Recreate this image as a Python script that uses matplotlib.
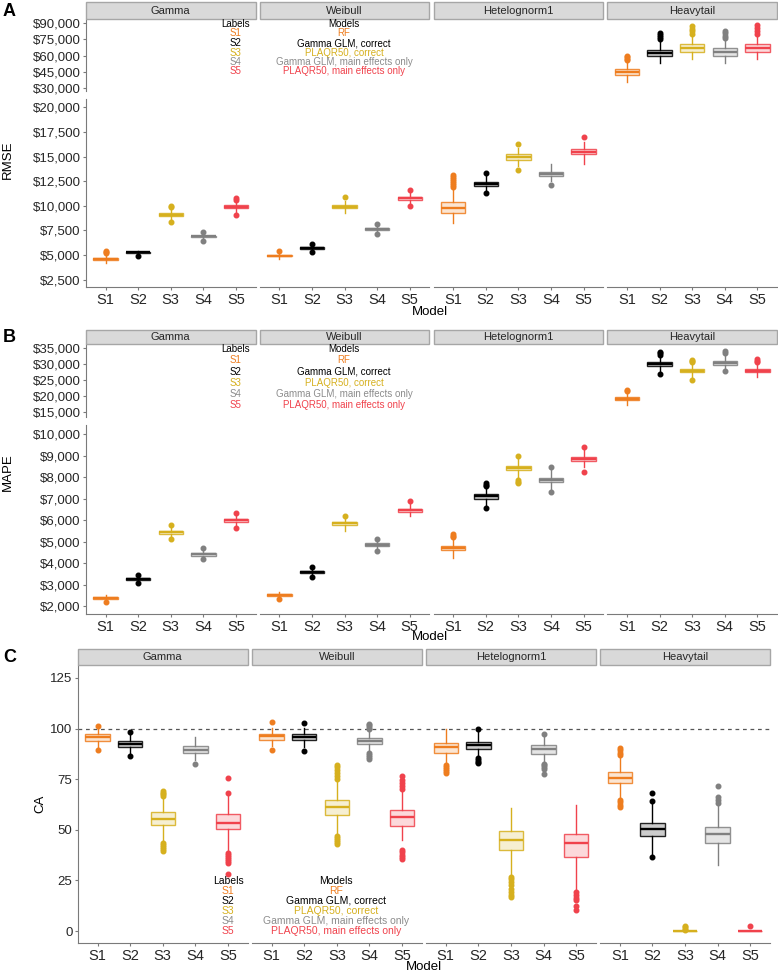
import numpy as np
import matplotlib.pyplot as plt
from matplotlib.colors import to_rgba
from matplotlib.patches import Rectangle
from matplotlib.ticker import FuncFormatter

plt.rcParams['font.family'] = ['Liberation Sans', 'DejaVu Sans']

W, H = 778, 973

dists = ["Gamma", "Weibull", "Hetelognorm1", "Heavytail"]
labels = ["S1", "S2", "S3", "S4", "S5"]
models = ["RF", "Gamma GLM, correct", "PLAQR50, correct",
          "Gamma GLM, main effects only", "PLAQR50, main effects only"]
box_colors = ["#EE7D1F", "#000000", "#D6B01E", "#808080", "#F0424C"]
text_colors = ["#EE7D1F", "#000000", "#D6B01E", "#8C8C8C", "#F0424C"]

# ---- RMSE (rows: Gamma, Weibull, Hetelognorm1, Heavytail; cols: S1..S5)
rmse_med = [[4600, 5270, 9100, 6900, 9900],
            [4950, 5720, 9900, 7650, 10750],
            [9800, 12220, 14950, 13230, 15500],
            [44500, 62700, 66700, 63000, 66700]]
rmse_q1 = [[4520, 5210, 8980, 6820, 9750],
           [4870, 5660, 9750, 7570, 10600],
           [9300, 12030, 14700, 13000, 15250],
           [42000, 59600, 63000, 59600, 63300]]
rmse_q3 = [[4680, 5330, 9230, 6980, 10050],
           [5030, 5790, 10080, 7730, 10900],
           [10350, 12420, 15230, 13450, 15800],
           [47300, 65200, 70500, 66700, 70700]]
rmse_lo = [[4150, 5050, 8650, 6600, 9400],
           [4600, 5450, 9250, 7300, 10300],
           [8300, 11600, 14050, 12500, 14200],
           [35500, 52800, 56500, 53500, 56500]]
rmse_hi = [[5000, 5450, 9650, 7250, 10500],
           [5300, 6000, 10500, 8000, 11300],
           [11800, 13000, 15900, 14250, 16500],
           [54000, 73000, 78000, 74000, 78000]]
rmse_out = [[[5200, 5300, 5400], [4850], [8400, 9850, 10000], [6450, 7350], [9100, 10600, 10750]],
            [[5450], [5300, 6100], [10850], [7100, 8100], [10000, 11600]],
            [[11950, 12150, 12350, 12550, 12750, 12950, 13150], [11250, 13300], [13600, 16300], [12100], [17000]],
            [[55500, 57000, 58500, 60000], [75000, 77000, 79000, 81000],
             [80000, 82500, 85000, 87500], [76000, 78500, 80500, 82500], [80000, 82500, 85500, 88300]]]

# ---- MAPE
mape_med = [[2360, 3260, 5430, 4400, 5980],
            [2530, 3600, 5840, 4850, 6460],
            [4690, 7100, 8420, 7860, 8850],
            [19100, 29900, 27900, 30300, 27900]]
mape_q1 = [[2320, 3220, 5360, 4350, 5900],
           [2490, 3550, 5760, 4790, 6390],
           [4600, 7000, 8310, 7760, 8750],
           [18600, 29300, 27400, 29800, 27400]]
mape_q3 = [[2400, 3300, 5500, 4450, 6060],
           [2570, 3650, 5920, 4910, 6530],
           [4790, 7200, 8520, 7960, 8950],
           [19700, 30500, 28400, 30900, 28500]]
mape_lo = [[2250, 3130, 5200, 4250, 5720],
           [2400, 3430, 5500, 4650, 6200],
           [4250, 6700, 7950, 7450, 8450],
           [17300, 27600, 25800, 28300, 26000]]
mape_hi = [[2500, 3400, 5680, 4600, 6250],
           [2650, 3770, 6100, 5080, 6750],
           [5150, 7500, 8850, 8350, 9250],
           [21000, 32300, 30100, 32800, 30200]]
mape_out = [[[2180], [3060, 3450], [5100, 5760], [4170, 4680], [5640, 6330]],
            [[2340], [3340, 3820], [6200], [4580, 5140], [6870]],
            [[5200, 5260, 5330], [6560, 7580, 7650, 7730], [7720, 7780, 7850, 9000], [7320, 8480], [8220, 9420]],
            [[21600, 22000], [26900, 32800, 33300, 33700], [25100, 30500, 31000, 31400],
             [27700, 33500, 34000], [30600, 31000, 31500]]]

# ---- CA
ca_med = [[95.8, 92.3, 55.5, 89.5, 53.5],
          [96.2, 95.8, 61.4, 93.7, 56.2],
          [90.8, 91.7, 45.2, 89.7, 43.4],
          [75.8, 50.5, 0, 48.0, 0]]
ca_q1 = [[94.1, 90.9, 52.2, 87.9, 50.2],
         [94.6, 94.3, 57.5, 92.2, 51.7],
         [88.0, 89.7, 40.1, 87.6, 36.5],
         [72.9, 46.7, 0, 43.4, 0]]
ca_q3 = [[97.4, 93.8, 58.6, 91.2, 57.8],
         [97.4, 97.4, 64.7, 95.1, 60.0],
         [93.0, 93.5, 49.3, 91.7, 48.0],
         [78.6, 53.3, 0, 51.3, 0]]
ca_lo = [[91.0, 88.0, 44.0, 84.5, 40.0],
         [91.5, 91.0, 48.0, 89.0, 45.0],
         [83.5, 86.0, 28.0, 84.0, 20.0],
         [66.0, 37.5, 0, 32.7, 0]]
ca_hi = [[99.6, 96.7, 65.0, 95.8, 67.5],
         [100.3, 100.5, 74.0, 98.5, 69.0],
         [100.0, 99.3, 61.0, 96.0, 62.5],
         [85.5, 63.5, 0, 62.0, 0]]
ca_out = [[[89.6, 101.5], [86.3, 98.3],
           [39.5, 40.5, 41.5, 42.5, 43.3, 66.8, 67.6, 68.4, 69.2], [82.7],
           [28.0, 33.5, 34.5, 35.5, 36.5, 37.5, 38.5, 68.2, 75.7]],
          [[89.2, 103.1], [88.9, 102.8],
           [42.8, 43.8, 44.8, 45.8, 47.0, 75.3, 76.5, 78.0, 79.5, 81.0, 82.2],
           [85.1, 86.0, 87.0, 88.0, 99.8, 100.8, 101.8, 102.5],
           [35.7, 36.8, 37.8, 38.8, 39.8, 70.1, 71.5, 73.0, 74.5, 76.6]],
          [[78.0, 79.0, 80.0, 81.0, 81.9], [82.8, 83.6, 84.4, 85.3, 99.6],
           [16.8, 18.0, 19.5, 21.0, 22.5, 24.0, 25.5, 26.5],
           [77.5, 79.9, 81.0, 82.0, 82.7, 97.4],
           [10.2, 12.3, 15.1, 16.5, 18.0, 19.2]],
          [[61.5, 62.5, 63.5, 64.8, 86.8, 88.0, 89.2, 90.5], [36.5, 64.4, 68.1],
           [0.6, 1.2, 1.8, 2.4], [63.2, 64.5, 66.0, 71.7], [2.3]]]


def make_stats(med, q1, q3, lo, hi, out, d):
    return [dict(med=med[d][k], q1=q1[d][k], q3=q3[d][k],
                 whislo=lo[d][k], whishi=hi[d][k], fliers=out[d][k]) for k in range(5)]


fig = plt.figure(figsize=(W / 100, H / 100), dpi=100)
AX_COL = "#7A7A7A"
TXT_COL = "#262626"


def add_ax(x0, y0, x1, y1):
    ax = fig.add_axes([x0 / W, 1 - y1 / H, (x1 - x0) / W, (y1 - y0) / H])
    ax.patch.set_alpha(0)
    for s in ax.spines.values():
        s.set_visible(False)
        s.set_color(AX_COL)
    ax.tick_params(colors=AX_COL, labelcolor=TXT_COL, length=2.5, width=0.8, pad=1.5)
    return ax


def draw_boxes(ax, st):
    art = ax.bxp(st, positions=range(1, 6), widths=0.75, patch_artist=True,
                 showcaps=False, manage_ticks=False)
    for k, c in enumerate(box_colors):
        art['boxes'][k].set(facecolor=to_rgba(c, 0.2), edgecolor=to_rgba(c, 0.85), linewidth=1.0)
        art['medians'][k].set(color=c, linewidth=1.7)
        for w in art['whiskers'][2 * k:2 * k + 2]:
            w.set(color=c, linewidth=1.0)
        art['fliers'][k].set(marker='o', markerfacecolor=c, markeredgecolor=c,
                             markersize=3.3, linestyle='none')


def strip(x0, y0, x1, y1, name):
    fig.add_artist(Rectangle((x0 / W, 1 - y1 / H), (x1 - x0) / W, (y1 - y0) / H,
                             transform=fig.transFigure, facecolor="#D9D9D9",
                             edgecolor="#A6A6A6", linewidth=1.0))
    fig.text((x0 + x1) / 2 / W, 1 - (y0 + y1) / 2 / H, name, ha='center', va='center',
             fontsize=8, color=TXT_COL)


def legend(xl, xm, y0, dy, fs):
    fig.text(xl / W, 1 - y0 / H, "Labels", ha='center', va='center', fontsize=fs, color="#000000")
    fig.text(xm / W, 1 - y0 / H, "Models", ha='center', va='center', fontsize=fs, color="#000000")
    for k in range(5):
        y = y0 + dy * (k + 1)
        fig.text(xl / W, 1 - y / H, labels[k], ha='center', va='center', fontsize=fs, color=text_colors[k])
        fig.text(xm / W, 1 - y / H, models[k], ha='center', va='center', fontsize=fs, color=text_colors[k])


money = FuncFormatter(lambda v, p: "${:,.0f}".format(v))


def broken_panel(med, q1, q3, lo, hi, out, strip_y, top_y, bot_y, top_lim, bot_lim,
                 top_ticks, bot_ticks):
    pw, gap = 169.5, 4.3
    for d in range(4):
        x0 = 86 + d * (pw + gap)
        x1 = x0 + pw
        strip(x0, strip_y[0], x1, strip_y[1], dists[d])
        st = make_stats(med, q1, q3, lo, hi, out, d)
        at = add_ax(x0, top_y[0], x1, top_y[1])
        ab = add_ax(x0, bot_y[0], x1, bot_y[1])
        for ax, lim, ticks in ((at, top_lim, top_ticks), (ab, bot_lim, bot_ticks)):
            draw_boxes(ax, st)
            ax.set_xlim(0.4, 5.6)
            ax.set_ylim(*lim)
            ax.set_yticks(ticks)
            ax.yaxis.set_major_formatter(money)
            ax.tick_params(axis='y', labelsize=9.5)
            if d == 0:
                ax.spines['left'].set_visible(True)
            else:
                ax.tick_params(axis='y', left=False, labelleft=False)
        at.tick_params(axis='x', bottom=False, labelbottom=False)
        ab.spines['bottom'].set_visible(True)
        ab.set_xticks(range(1, 6))
        ab.set_xticklabels(labels)
        ab.tick_params(axis='x', labelsize=10.5)


# ---- Panel A
broken_panel(rmse_med, rmse_q1, rmse_q3, rmse_lo, rmse_hi, rmse_out,
             (2, 19), (19, 91), (99, 287), (27200, 93900), (1750, 20850),
             np.arange(30000, 90001, 15000), np.arange(2500, 20001, 2500))
legend(236, 344, 24, 9.5, 7)
fig.text(3 / W, 1 - 11 / H, "A", fontsize=13, fontweight='bold', va='center', ha='left')
fig.text(8 / W, 1 - 160 / H, "RMSE", rotation=90, fontsize=9.5, va='center', ha='center', color="#000000")
fig.text(430 / W, 1 - 312 / H, "Model", fontsize=9.5, va='center', ha='center', color="#000000")

# ---- Panel B
broken_panel(mape_med, mape_q1, mape_q3, mape_lo, mape_hi, mape_out,
             (330, 344), (344, 417), (425, 614), (13410, 36270), (1630, 10420),
             np.arange(15000, 35001, 5000), np.arange(2000, 10001, 1000))
legend(236, 344, 349, 11.3, 7)
fig.text(3 / W, 1 - 337 / H, "B", fontsize=13, fontweight='bold', va='center', ha='left')
fig.text(8 / W, 1 - 472 / H, "MAPE", rotation=90, fontsize=9.5, va='center', ha='center', color="#000000")
fig.text(430 / W, 1 - 637 / H, "Model", fontsize=9.5, va='center', ha='center', color="#000000")

# ---- Panel C
pw, gap = 169.5, 4.6
for d in range(4):
    x0 = 78 + d * (pw + gap)
    x1 = x0 + pw
    strip(x0, 649, x1, 665, dists[d])
    ax = add_ax(x0, 665, x1, 943)
    ax.axhline(100, color="#555555", linewidth=0.9, linestyle=(0, (3, 3)), zorder=0)
    draw_boxes(ax, make_stats(ca_med, ca_q1, ca_q3, ca_lo, ca_hi, ca_out, d))
    ax.set_xlim(0.4, 5.6)
    ax.set_ylim(-5.9, 131.4)
    ax.set_yticks([0, 25, 50, 75, 100, 125])
    ax.tick_params(axis='y', labelsize=9.5)
    ax.spines['bottom'].set_visible(True)
    ax.set_xticks(range(1, 6))
    ax.set_xticklabels(labels)
    ax.tick_params(axis='x', labelsize=10.5)
    if d == 0:
        ax.spines['left'].set_visible(True)
    else:
        ax.tick_params(axis='y', left=False, labelleft=False)
legend(228, 336, 880.7, 10.05, 7.5)
fig.text(3 / W, 1 - 657 / H, "C", fontsize=13, fontweight='bold', va='center', ha='left')
fig.text(40 / W, 1 - 804 / H, "CA", rotation=90, fontsize=9.5, va='center', ha='center', color="#000000")
fig.text(424 / W, 1 - 967 / H, "Model", fontsize=9.5, va='center', ha='center', color="#000000")

fig.savefig("out.png", dpi=100)
